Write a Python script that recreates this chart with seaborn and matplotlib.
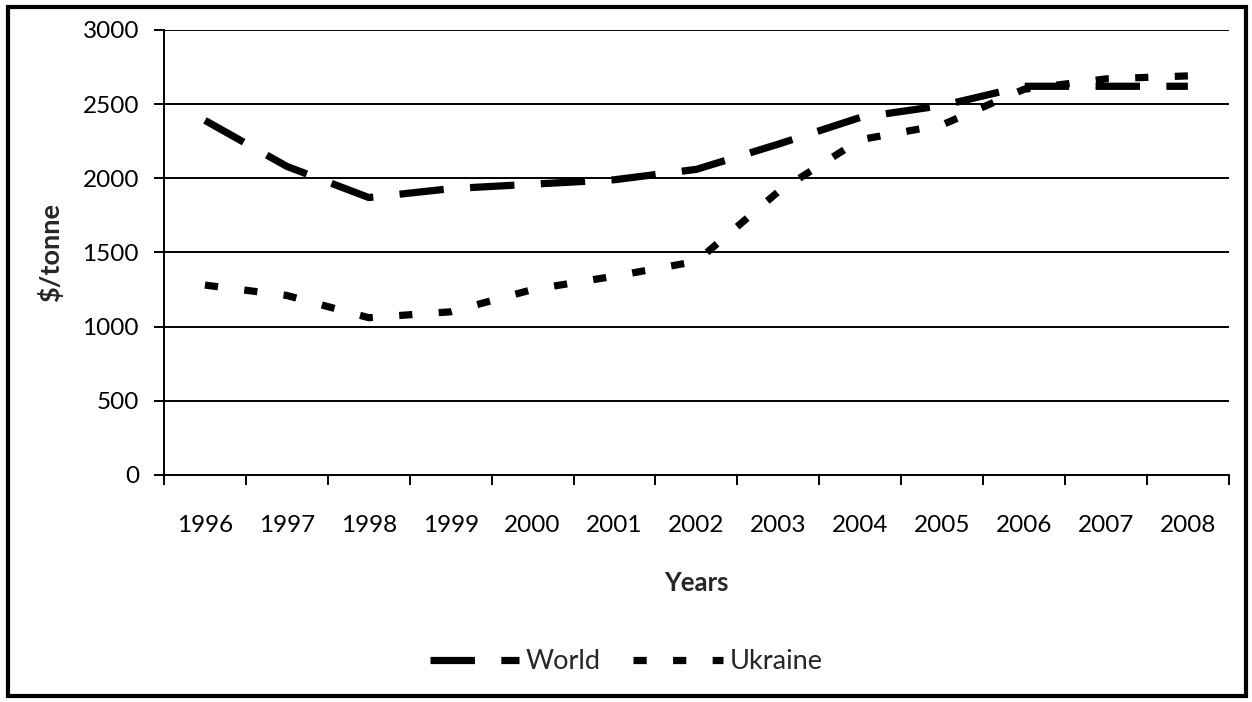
import numpy as np
import pandas as pd
import seaborn as sns
import matplotlib.pyplot as plt
from matplotlib.patches import Rectangle
from matplotlib.ticker import FixedLocator

years = [1996, 1997, 1998, 1999, 2000, 2001, 2002, 2003, 2004, 2005, 2006, 2007, 2008]
world = [2390, 2080, 1870, 1930, 1960, 1990, 2060, 2230, 2410, 2490, 2620, 2620, 2620]
ukraine = [1280, 1210, 1060, 1100, 1250, 1340, 1440, 1910, 2260, 2360, 2600, 2670, 2690]
series_names = ["World", "Ukraine"]
y_ticks = [0, 500, 1000, 1500, 2000, 2500, 3000]

df = pd.DataFrame({"Years": years * 2,
                   "price": world + ukraine,
                   "series": ["World"] * len(years) + ["Ukraine"] * len(years)})

sns.set_theme(style="white")
plt.rcParams["font.family"] = ["Lato", "DejaVu Sans"]
plt.rcParams["lines.scale_dashes"] = False

fig = plt.figure(figsize=(12.52, 7.02), dpi=100)
ax = fig.add_axes([0.131, 0.3234, 0.8505, 0.634])

sns.lineplot(data=df, x="Years", y="price", style="series", style_order=series_names,
             dashes={"World": (32, 19), "Ukraine": (9.5, 19)},
             color="black", linewidth=5.2, ax=ax, legend=True)

ax.set_xlim(1995.5, 2008.5)
ax.set_ylim(0, 3000)
ax.set_yticks(y_ticks)
ax.set_xticks(years)
ax.set_xticklabels([str(y) for y in years])
ax.xaxis.set_minor_locator(FixedLocator(np.arange(1995.5, 2009, 1.0)))

ax.yaxis.grid(True, color="black", linewidth=1.4)
ax.set_axisbelow(True)
for side in ["top", "right"]:
    ax.spines[side].set_visible(False)
for side in ["left", "bottom"]:
    ax.spines[side].set_color("black")
    ax.spines[side].set_linewidth(1.4)

ax.tick_params(axis="y", which="major", length=7, width=1.4, color="black",
               direction="out", left=True, pad=11, labelsize=17.5, labelcolor="black")
ax.tick_params(axis="x", which="major", length=0, pad=29, labelsize=17.5, labelcolor="black")
ax.tick_params(axis="x", which="minor", length=7, width=1.4, color="black",
               direction="out", bottom=True)

ax.set_xlabel("Years", fontsize=18.5, fontweight="bold", labelpad=25)
ax.set_ylabel("$/tonne", fontsize=19.5, fontweight="bold", labelpad=14)

handles, labels = ax.get_legend_handles_labels()
ax.legend(handles, labels, loc="center", bbox_to_anchor=(0.5, 0.057),
          bbox_transform=fig.transFigure, ncol=2, frameon=False, fontsize=19.5,
          handlelength=3.3, handletextpad=0.25, columnspacing=1.2)

fig.patches.append(Rectangle((0.006, 0.0085), 0.989, 0.981, transform=fig.transFigure,
                             fill=False, edgecolor="black", linewidth=3, zorder=10))

fig.savefig("out.png", dpi=100, facecolor="white")
